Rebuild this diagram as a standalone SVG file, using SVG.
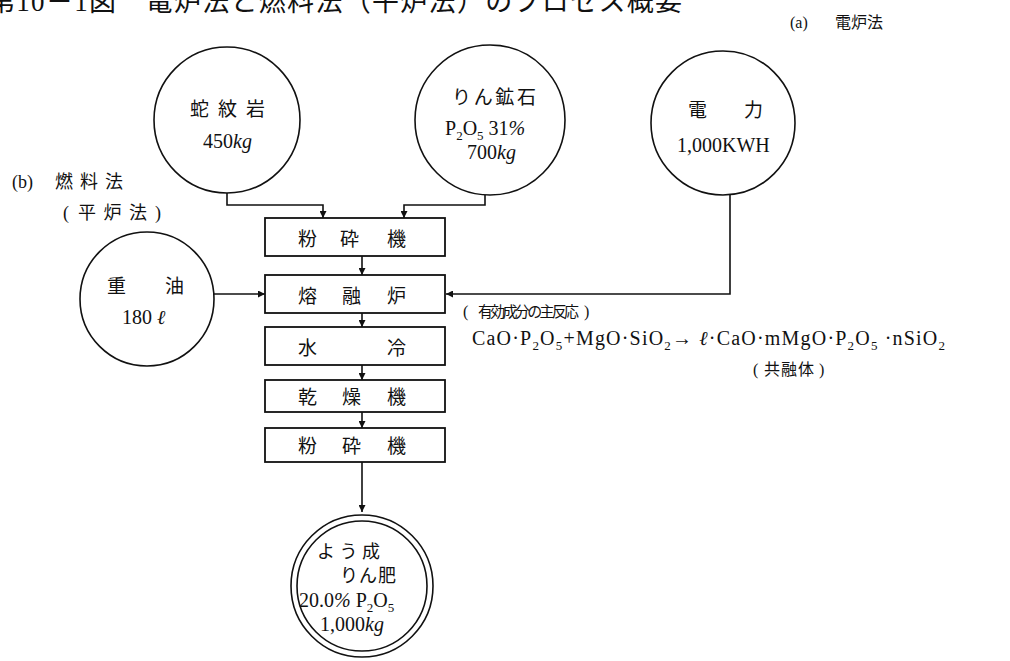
<svg xmlns="http://www.w3.org/2000/svg" width="1010" height="661" viewBox="0 0 1010 661">
<style>
text{font-family:"Liberation Serif","Noto Sans CJK JP",serif;fill:#111;}
.t{font-size:19px;}
.n{font-size:20px;}
.c{fill:none;stroke:#111;stroke-width:1.6;}
.b{fill:#fff;stroke:#111;stroke-width:1.8;}
.ln{fill:none;stroke:#111;stroke-width:1.6;}
.sub{font-size:13px;}
</style>
<defs>
<marker id="ar" viewBox="0 0 10 10" refX="10" refY="5" markerWidth="7" markerHeight="7" orient="auto" markerUnits="userSpaceOnUse">
<path d="M0,0 L10,5 L0,10 z" fill="#111"/>
</marker>
</defs>
<rect width="1010" height="661" fill="#fff"/>
<g id="title">
<text x="-12" y="11" font-size="27" textLength="694" lengthAdjust="spacing">第10－1図　電炉法と燃料法（平炉法）のプロセス概要</text>
</g>
<g id="label-a"><text x="790" y="28" font-size="16">(a)<tspan x="835">電炉法</tspan></text></g>
<g id="label-b">
<text x="12" y="188" font-size="18">(b)</text>
<text x="55" y="188" font-size="18" textLength="68" lengthAdjust="spacing">燃料法</text>
<text x="63" y="219" font-size="18">(</text>
<text x="78" y="219" font-size="18" textLength="69" lengthAdjust="spacing">平炉法</text>
<text x="155" y="219" font-size="18">)</text>
</g>
<g id="connectors">
<polyline class="ln" points="227,193 227,205 323,205 323,218" marker-end="url(#ar)"/>
<polyline class="ln" points="485,195 485,205 404,205 404,218" marker-end="url(#ar)"/>
<polyline class="ln" points="730,195 730,294 446,294" marker-end="url(#ar)"/>
<line class="ln" x1="213" y1="294" x2="265" y2="294" marker-end="url(#ar)"/>
<line class="ln" x1="362" y1="256" x2="362" y2="275" marker-end="url(#ar)"/>
<line class="ln" x1="362" y1="313" x2="362" y2="327" marker-end="url(#ar)"/>
<line class="ln" x1="362" y1="365" x2="362" y2="380" marker-end="url(#ar)"/>
<line class="ln" x1="362" y1="412" x2="362" y2="428" marker-end="url(#ar)"/>
<line class="ln" x1="362" y1="462" x2="362" y2="512" marker-end="url(#ar)"/>
</g>
<g id="serpentine">
<circle class="c" cx="227" cy="120" r="73"/>
<text class="t" x="190" y="116" textLength="75" lengthAdjust="spacing">蛇紋岩</text>
<text class="n" x="203" y="148">450<tspan font-style="italic">kg</tspan></text>
</g>
<g id="phosphate">
<circle class="c" cx="490" cy="120" r="75"/>
<text class="t" x="452" y="104" textLength="84" lengthAdjust="spacing">りん鉱石</text>
<text class="n" x="445" y="135">P<tspan class="sub" dy="5">2</tspan><tspan dy="-5">O</tspan><tspan class="sub" dy="5">5</tspan><tspan dy="-5"> 31</tspan><tspan font-style="italic">%</tspan></text>
<text class="n" x="467" y="159">700<tspan font-style="italic">kg</tspan></text>
</g>
<g id="electric">
<circle class="c" cx="723" cy="123" r="72"/>
<text class="t" x="688" y="117">電<tspan x="744">力</tspan></text>
<text class="n" x="677" y="152" font-size="21">1,000KWH</text>
</g>
<g id="heavyoil">
<circle class="c" cx="147" cy="299" r="67"/>
<text class="t" x="107" y="293">重<tspan x="165">油</tspan></text>
<text class="n" x="122" y="324">180 <tspan font-style="italic">ℓ</tspan></text>
</g>
<g id="crusher1">
<rect class="b" x="265" y="218" width="180" height="38"/>
<text class="t" x="298" y="246">粉<tspan x="340">砕</tspan><tspan x="387">機</tspan></text>
</g>
<g id="furnace">
<rect class="b" x="265" y="275" width="180" height="38"/>
<text class="t" x="298" y="303">熔<tspan x="342">融</tspan><tspan x="387">炉</tspan></text>
</g>
<g id="watercool">
<rect class="b" x="265" y="327" width="180" height="38"/>
<text class="t" x="298" y="355">水<tspan x="387">冷</tspan></text>
</g>
<g id="dryer">
<rect class="b" x="265" y="380" width="180" height="32"/>
<text class="t" x="298" y="404">乾<tspan x="342">燥</tspan><tspan x="387">機</tspan></text>
</g>
<g id="crusher2">
<rect class="b" x="265" y="428" width="180" height="34"/>
<text class="t" x="298" y="453">粉<tspan x="342">砕</tspan><tspan x="387">機</tspan></text>
</g>
<g id="reaction">
<text x="463" y="317" font-size="16">(</text>
<text x="478" y="317" font-size="15" textLength="101" lengthAdjust="spacing">有効成分の主反応</text>
<text x="584" y="317" font-size="16">)</text>
<text x="472" y="345" font-size="20" textLength="473" lengthAdjust="spacing">CaO·P<tspan class="sub" dy="5">2</tspan><tspan dy="-5">O</tspan><tspan class="sub" dy="5">5</tspan><tspan dy="-5">+MgO·SiO</tspan><tspan class="sub" dy="5">2</tspan><tspan dy="-5">→ </tspan><tspan font-style="italic">ℓ</tspan><tspan>·CaO·mMgO·P</tspan><tspan class="sub" dy="5">2</tspan><tspan dy="-5">O</tspan><tspan class="sub" dy="5">5</tspan><tspan dy="-5"> ·nSiO</tspan><tspan class="sub" dy="5">2</tspan></text>
<text x="753" y="375" font-size="16">(</text>
<text x="764" y="375" font-size="16" textLength="50" lengthAdjust="spacing">共融体</text>
<text x="819" y="375" font-size="16">)</text>
</g>
<g id="product">
<circle class="c" cx="362" cy="586" r="71"/>
<circle class="c" cx="362" cy="586" r="65"/>
<text x="317" y="558" font-size="18" textLength="63" lengthAdjust="spacing">よう成</text>
<text x="340" y="582" font-size="18" textLength="56" lengthAdjust="spacing">りん肥</text>
<text class="n" x="299" y="607">20.0<tspan font-style="italic">%</tspan> P<tspan class="sub" dy="5">2</tspan><tspan dy="-5">O</tspan><tspan class="sub" dy="5">5</tspan></text>
<text class="n" x="320" y="631">1,000<tspan font-style="italic">kg</tspan></text>
</g>
</svg>
